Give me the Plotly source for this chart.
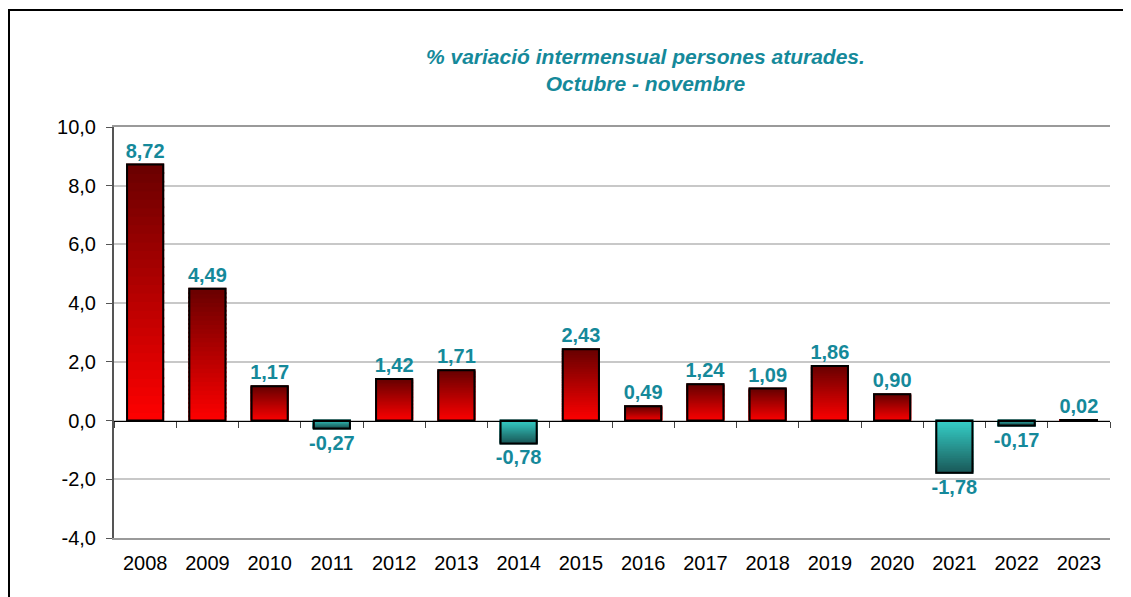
"""Monthly variation of unemployed people, October - November."""

import plotly.graph_objects as go

YEARS = ["2008", "2009", "2010", "2011", "2012", "2013", "2014", "2015",
         "2016", "2017", "2018", "2019", "2020", "2021", "2022", "2023"]
VARIATION = [8.72, 4.49, 1.17, -0.27, 1.42, 1.71, -0.78, 2.43,
             0.49, 1.24, 1.09, 1.86, 0.90, -1.78, -0.17, 0.02]
LABELS = ["8,72", "4,49", "1,17", "-0,27", "1,42", "1,71", "-0,78", "2,43",
          "0,49", "1,24", "1,09", "1,86", "0,90", "-1,78", "-0,17", "0,02"]
Y_TICKS = [-4, -2, 0, 2, 4, 6, 8, 10]
Y_TICK_TEXT = ["-4,0", "-2,0", "0,0", "2,0", "4,0", "6,0", "8,0", "10,0"]

TITLE = "<b><i>% variació intermensual persones aturades.<br>Octubre - novembre</i></b>"

FONT = "Liberation Sans, Arial, sans-serif"
TEAL = "#15899a"

W, H = 1131, 597
OFF = 8  # page body margin
M_L, M_R, M_T, M_B = 114 - OFF, 1131 - 1110 + OFF, 127 - OFF, 597 - 538 + OFF
Y_MIN, Y_MAX = -4, 10


def _hex(c):
    c = c.lstrip("#")
    return [int(c[i:i + 2], 16) for i in (0, 2, 4)]


def _lerp(c0, c1, t):
    a, b = _hex(c0), _hex(c1)
    return "rgb({},{},{})".format(*[round(x + (y - x) * t) for x, y in zip(a, b)])


# gradient fill: each bar is split into thin slices from the baseline outwards
N_SLICES = 30
fig = go.Figure()
for i in range(N_SLICES):
    t = (i + 0.5) / N_SLICES
    colors = [
        _lerp("#ff0000", "#6a0000", t) if v >= 0 else _lerp("#36d2ca", "#1a5a5a", t)
        for v in VARIATION
    ]
    fig.add_trace(go.Bar(
        x=YEARS,
        y=[v / N_SLICES for v in VARIATION],
        marker=dict(color=colors, line=dict(width=2, color=colors)),
        hoverinfo="skip",
        showlegend=False,
    ))

# outline + labels on an overlaid axis (also draws the zero line with ticks)
fig.add_trace(go.Bar(
    x=YEARS,
    y=VARIATION,
    xaxis="x2",
    marker=dict(color="rgba(0,0,0,0)", line=dict(color="black", width=2)),
    text=LABELS,
    textposition="outside",
    constraintext="none",
    textfont=dict(family=FONT, size=20, color=TEAL, weight="bold"),
    cliponaxis=False,
    showlegend=False,
))

plot_h = H - M_T - M_B
plot_w = W - M_L - M_R
zero_pos = (0 - Y_MIN) / (Y_MAX - Y_MIN)

fig.update_layout(
    width=W,
    height=H,
    margin=dict(l=M_L, r=M_R, t=M_T, b=M_B),
    paper_bgcolor="white",
    plot_bgcolor="white",
    barmode="relative",
    bargap=0.42,
    font=dict(family=FONT, size=20, color="black"),
    xaxis=dict(
        showline=True,
        linecolor="#9a9a9a",
        linewidth=2,
        mirror=True,
        ticks="",
        showgrid=False,
        ticklabelstandoff=6,
        tickfont=dict(size=20),
    ),
    xaxis2=dict(
        overlaying="x",
        anchor="free",
        position=zero_pos,
        side="bottom",
        showline=True,
        linecolor="black",
        linewidth=1,
        ticks="outside",
        tickson="boundaries",
        ticklen=6,
        tickcolor="#444",
        showticklabels=False,
        showgrid=False,
    ),
    yaxis=dict(
        range=[Y_MIN, Y_MAX],
        tickvals=Y_TICKS,
        ticktext=Y_TICK_TEXT,
        showgrid=True,
        gridcolor="#c8c8c8",
        gridwidth=1.5,
        zeroline=False,
        showline=True,
        linecolor="#555",
        linewidth=2,
        ticks="outside",
        ticklen=6,
        tickcolor="#555",
        ticklabelstandoff=6,
        tickfont=dict(size=20),
    ),
    annotations=[dict(
        text=TITLE,
        xref="paper",
        yref="paper",
        x=(645 - OFF - M_L) / plot_w,
        y=1 + (M_T - (70 - OFF)) / plot_h,
        xanchor="center",
        yanchor="middle",
        showarrow=False,
        align="center",
        font=dict(family=FONT, size=21, color=TEAL),
    )],
    shapes=[dict(
        type="path",
        xref="paper",
        yref="paper",
        path="M {x0},{y0} L {x0},{y1} L {x1},{y1}".format(
            x0=(9 - OFF - M_L) / plot_w,
            y0=(M_T - H - 5) / plot_h,
            y1=1 + (M_T - (10 - OFF)) / plot_h,
            x1=(1127 - OFF - M_L) / plot_w,
        ),
        line=dict(color="black", width=2),
    )],
)

fig.write_html("out.html")
